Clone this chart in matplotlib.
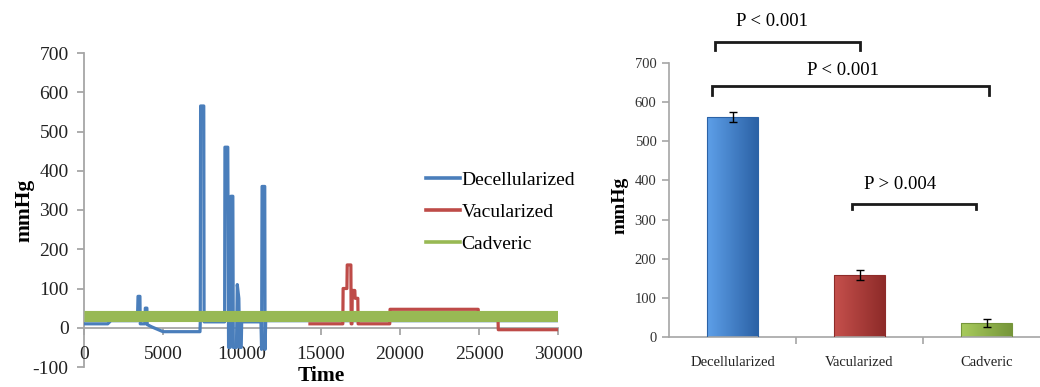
import matplotlib
matplotlib.use("Agg")
import matplotlib.pyplot as plt
import numpy as np
from matplotlib.patches import Rectangle
from matplotlib.lines import Line2D
from matplotlib.colors import LinearSegmentedColormap

plt.rcParams['font.family'] = ['Liberation Serif', 'DejaVu Serif']
plt.rcParams['axes.unicode_minus'] = False

# ---------------- data: left time series (keypoints) -------------
decell_t = [0, 1500, 1700, 3380, 3420, 3540, 3560, 3860, 3880, 3980, 4000, 4300, 5000, 7340,
            7360, 7380, 7580, 7600, 8900, 8920, 9100, 9150, 9250, 9300, 9420, 9450, 9650,
            9700, 9800, 9850, 9950, 9980, 11200, 11240, 11270, 11440, 11460, 11500, 30000]
decell_v = [10, 10, 18, 18, 80, 80, 10, 10, 50, 50, 8, 2, -10, -10,
            15, 565, 565, 15, 15, 460, 460, -50, -50, 335, 335, -50, -50,
            110, 75, -50, -50, 15, 15, -55, 360, 360, -55, 18, 18]

vascu_t = [14300, 16380, 16400, 16640, 16660, 16890, 16910, 16960, 16980, 17140, 17160,
           17330, 17350, 19350, 19370, 24950, 24970, 26200, 26220, 30000]
vascu_v = [10, 10, 100, 100, 160, 160, 10, 10, 95, 95, 75,
           75, 10, 10, 47, 47, 28, 28, -5, -5]

cadav_t = [0, 30000]
cadav_v = [29, 29]

series_labels = ['Decellularized', 'Vacularized', 'Cadveric']
series_colors = ['#4a7ebb', '#be4b48', '#98b954']

# ---------------- data: right bar chart -------------
categories = ['Decellularized', 'Vacularized', 'Cadveric']
bar_means = [562, 158, 35]
bar_errs = [12, 12, 10]
bar_light = ['#5e9fe8', '#c5504c', '#a8cb5c']
bar_dark = ['#2b62a6', '#8e2b29', '#76963a']
p_labels = ['P < 0.001', 'P < 0.001', 'P > 0.004']

fig = plt.figure(figsize=(10.4, 3.87), dpi=100)
W, H = 1040, 387

# ---------------- left axes -------------
axL = fig.add_axes([84 / W, (H - 367) / H, 474 / W, 314 / H])
axL.plot(decell_t, decell_v, color=series_colors[0], lw=2.3, label=series_labels[0], zorder=2)
axL.plot(vascu_t, vascu_v, color=series_colors[1], lw=2.3, label=series_labels[1], zorder=3)
axL.plot(cadav_t, cadav_v, color=series_colors[2], lw=8, label=series_labels[2], zorder=4,
         solid_capstyle='butt')
axL.set_xlim(0, 30000)
axL.set_ylim(-100, 700)
axL.set_yticks(range(-100, 701, 100))
axL.set_xticks(range(0, 30001, 5000))
for s in ['top', 'right']:
    axL.spines[s].set_visible(False)
axL.spines['bottom'].set_position(('data', 0))
for s in ['left', 'bottom']:
    axL.spines[s].set_color('#a6a6a6')
    axL.spines[s].set_linewidth(1.3)
    axL.spines[s].set_zorder(1)
axL.tick_params(axis='both', colors='#a6a6a6', labelcolor='#222222', labelsize=14,
                length=5, width=1.3)
axL.tick_params(axis='x', pad=8)
axL.tick_params(axis='y', pad=6)
axL.set_ylabel('mmHg', fontsize=15.5, fontweight='bold')
axL.yaxis.set_label_coords(-0.105, 0.5)
axL.set_xlabel('Time', fontsize=15.5, fontweight='bold', va='center')
axL.xaxis.set_label_coords(0.5, -0.03)

leg_handles = [Line2D([0], [0], color=c, lw=2.6) for c in series_colors]
fig.legend(leg_handles, series_labels, loc='center left',
           bbox_to_anchor=(408 / W, 1 - 212 / H), frameon=False, fontsize=14,
           handlelength=1.75, handletextpad=0.1, labelspacing=0.74)

# ---------------- right axes -------------
cat_w = 127.0
axR_w = W - 669
axR = fig.add_axes([669 / W, (H - 337) / H, axR_w / W, 274 / H])
xs = np.arange(len(categories))
bw = 0.4
bars = axR.bar(xs, bar_means, width=bw, color='none', edgecolor='none', zorder=2)
grad = np.linspace(0, 1, 64).reshape(1, -1)
for i, b in enumerate(bars):
    x0, y0 = b.get_x(), b.get_y()
    w, h = b.get_width(), b.get_height()
    cmap = LinearSegmentedColormap.from_list('g%d' % i, [bar_light[i], bar_dark[i]])
    im = axR.imshow(grad, cmap=cmap, extent=[x0, x0 + w, y0, y0 + h], aspect='auto', zorder=2)
    rect = Rectangle((x0, y0), w, h, transform=axR.transData)
    im.set_clip_path(rect)
    axR.add_patch(Rectangle((x0, y0), w, h, fill=False, edgecolor=bar_dark[i], lw=0.8, zorder=3))
axR.errorbar(xs, bar_means, yerr=bar_errs, fmt='none', ecolor='black', elinewidth=1,
             capsize=3, capthick=1, zorder=4)
axR.set_xlim(-0.5, -0.5 + axR_w / cat_w)
axR.set_ylim(0, 700)
axR.set_yticks(range(0, 701, 100))
axR.set_xticks([0.5, 1.5])
axR.set_xticklabels([])
axR.set_xticks(xs, minor=True)
axR.set_xticklabels(categories, minor=True)
axR.tick_params(axis='x', which='minor', length=0, pad=14, labelsize=10.5, labelcolor='#222222')
axR.tick_params(axis='x', which='major', length=5, width=1.2, color='#a6a6a6')
axR.tick_params(axis='y', length=5, width=1.2, color='#a6a6a6', labelsize=10.5,
                labelcolor='#333333', pad=4)
for s in ['top', 'right']:
    axR.spines[s].set_visible(False)
for s in ['left', 'bottom']:
    axR.spines[s].set_color('#a6a6a6')
    axR.spines[s].set_linewidth(1.2)
axR.set_ylabel('mmHg', fontsize=14, fontweight='bold')
axR.yaxis.set_label_coords(-0.11, 0.48)

# significance brackets
brackets = [(-0.14, 1.0, 754, 733), (-0.16, 2.02, 642, 619), (0.94, 1.92, 340, 327)]
text_pos = [(0.31, 805), (0.87, 680), (1.32, 390)]
for (xa, xb, ytop, yleg), (tx, ty), lab in zip(brackets, text_pos, p_labels):
    axR.plot([xa, xa, xb, xb], [yleg, ytop, ytop, yleg], color='#1a1a1a', lw=2,
             clip_on=False, zorder=5, solid_joinstyle='miter')
    axR.text(tx, ty, lab, ha='center', va='center', fontsize=13.5, clip_on=False)

fig.savefig('out.png', dpi=100)
